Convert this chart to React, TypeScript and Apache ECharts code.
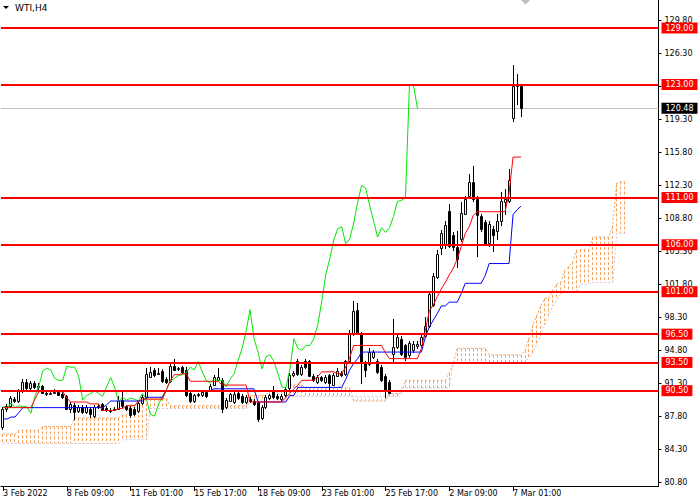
import React, { useEffect, useRef } from 'react';
import * as echarts from 'echarts';

const categoryCount = 165;
const xTickBars = [0, 16, 32, 48, 64, 80, 96, 112, 128];
const xTickLabels = ['3 Feb 2022', '8 Feb 09:00', '11 Feb 01:00', '15 Feb 17:00', '18 Feb 09:00', '23 Feb 01:00', '25 Feb 17:00', '2 Mar 09:00', '7 Mar 01:00'];
const yTickValues = [80.8, 84.3, 87.8, 91.3, 94.8, 98.3, 101.8, 105.3, 108.8, 112.3, 115.8, 119.3, 122.8, 126.3, 129.8];
const levels = [129, 123, 111, 106, 101, 96.5, 93.5, 90.5];
const lastPrice = 120.48;

// [open, high, low, close] per H4 bar
const candles: number[][] = [
  [86.6, 88.8, 86.3, 88.6], [88.6, 89.1, 88.2, 88.9], [88.9, 89.9, 88.7, 89.7], [89.6, 89.8, 89.2, 89.4], [89.4, 90.7, 89.2, 90.5],
  [90.5, 91.7, 90.3, 91.4], [91.4, 91.7, 90.6, 90.8], [90.8, 91.5, 90.6, 91.3], [91.3, 91.5, 90.7, 90.9], [90.9, 91.3, 90.6, 91.0],
  [91.0, 91.1, 90.1, 90.3], [90.3, 90.6, 89.9, 90.2], [90.2, 90.5, 90.0, 90.3], [90.3, 90.7, 90.1, 90.4], [90.4, 90.6, 89.9, 90.0],
  [90.2, 90.4, 89.6, 89.8], [89.9, 90.0, 88.4, 88.6], [88.6, 89.3, 88.1, 89.1], [89.0, 89.2, 87.4, 88.2], [88.3, 89.0, 88.1, 88.8],
  [88.8, 89.0, 88.0, 88.2], [88.2, 89.0, 88.0, 88.8], [88.6, 88.8, 87.6, 88.0], [87.8, 89.0, 87.6, 88.8], [88.8, 89.1, 88.6, 88.9],
  [89.1, 89.2, 88.3, 88.5], [88.7, 88.9, 88.2, 88.4], [88.5, 88.7, 88.1, 88.3], [88.4, 88.8, 88.3, 88.6], [88.6, 89.9, 88.4, 89.4],
  [89.5, 90.4, 88.7, 88.9], [88.9, 89.0, 88.3, 88.6], [88.7, 88.9, 87.6, 87.9], [88.6, 88.8, 87.8, 88.0], [88.3, 89.4, 88.1, 89.2],
  [89.2, 90.0, 89.0, 89.8], [89.8, 92.9, 89.6, 92.3], [92.0, 93.0, 91.9, 92.5], [92.7, 92.9, 92.0, 92.2], [92.3, 92.9, 92.2, 92.4],
  [92.6, 92.8, 91.3, 91.5], [91.7, 91.9, 91.2, 91.4], [91.5, 93.3, 91.3, 93.1], [93.1, 93.9, 92.6, 92.7], [92.8, 93.0, 92.6, 92.9],
  [93.0, 93.1, 92.3, 92.5], [92.7, 93.0, 89.8, 90.0], [90.3, 90.5, 89.2, 89.4], [89.4, 90.2, 89.2, 90.0], [90.0, 90.3, 89.8, 90.1],
  [90.0, 90.6, 89.8, 90.4], [90.4, 90.6, 89.7, 89.9], [90.6, 91.2, 90.5, 91.0], [91.1, 92.2, 91.0, 92.0], [91.6, 92.9, 91.5, 92.0],
  [91.6, 91.8, 88.1, 88.6], [88.8, 89.7, 88.6, 89.5], [89.4, 90.3, 89.3, 90.1], [89.3, 90.4, 89.1, 90.2], [90.3, 90.5, 89.5, 89.7],
  [89.9, 90.1, 89.1, 89.3], [89.3, 90.0, 89.1, 89.8], [89.6, 89.8, 89.2, 89.4], [89.4, 89.6, 88.9, 89.1], [89.3, 89.4, 87.2, 87.5],
  [87.6, 89.0, 87.4, 88.8], [88.8, 90.0, 88.6, 89.8], [89.7, 90.2, 89.5, 90.0], [90.5, 91.0, 89.6, 89.8], [89.9, 90.1, 89.5, 89.7],
  [89.6, 90.1, 89.4, 89.9], [90.0, 90.9, 89.8, 90.7], [90.8, 92.4, 90.6, 92.2], [92.2, 92.6, 92.0, 92.4], [93.6, 93.9, 92.1, 92.3],
  [92.3, 93.2, 92.1, 93.0], [93.7, 93.9, 92.8, 93.0], [93.6, 93.8, 91.9, 92.1], [92.1, 92.3, 91.4, 91.6], [91.4, 92.2, 91.2, 92.0],
  [91.9, 92.1, 91.4, 91.6], [91.4, 92.2, 91.2, 92.0], [92.2, 92.3, 90.5, 91.3], [91.1, 92.4, 91.0, 92.2], [92.1, 92.9, 91.9, 92.6],
  [92.4, 92.6, 92.0, 92.2], [92.3, 93.8, 92.1, 93.6], [93.6, 96.9, 93.4, 96.6], [96.5, 100.0, 96.3, 99.0], [99.1, 99.8, 96.4, 96.6],
  [96.5, 96.7, 91.2, 93.5], [93.4, 93.6, 92.0, 92.7], [93.3, 95.0, 93.1, 94.6], [94.1, 94.8, 93.9, 94.6], [93.7, 93.9, 92.3, 92.5],
  [93.0, 93.2, 91.4, 91.6], [92.1, 92.3, 89.7, 90.5], [91.4, 91.6, 90.1, 90.3], [94.4, 98.1, 93.4, 95.1], [95.1, 96.4, 94.9, 96.2],
  [96.0, 96.3, 94.2, 94.4], [95.3, 95.5, 93.7, 94.1], [94.3, 95.8, 94.0, 95.6], [94.8, 95.8, 94.5, 95.5], [95.2, 95.8, 94.9, 95.5],
  [95.3, 96.5, 95.1, 96.2], [96.3, 98.3, 96.1, 97.4], [97.4, 101.0, 97.2, 100.8], [99.6, 103.0, 99.4, 102.7], [102.6, 105.4, 102.4, 105.0],
  [105.6, 107.6, 104.9, 107.2], [106.1, 108.5, 105.5, 108.1], [109.6, 110.3, 105.6, 105.9], [107.0, 107.4, 105.3, 105.8], [105.8, 107.5, 103.5, 104.5],
  [106.6, 110.5, 106.3, 109.4], [109.3, 111.2, 109.1, 110.9], [111.2, 113.5, 111.0, 112.7], [112.7, 114.4, 110.5, 110.9], [110.9, 111.2, 104.7, 109.1],
  [109.0, 109.3, 107.4, 107.7], [108.4, 108.6, 105.9, 106.1], [106.2, 108.5, 105.8, 108.2], [107.7, 108.0, 105.2, 107.0], [107.5, 109.3, 106.5, 108.5],
  [108.5, 111.6, 108.0, 110.6], [110.5, 111.9, 109.2, 110.8], [110.6, 114.0, 110.4, 112.9], [119.4, 125.1, 119.0, 122.8], [122.8, 124.1, 120.8, 123.0],
  [122.9, 123.0, 119.6, 120.48],
];

const tenkan = [
  88.7, 88.7, 88.7, 88.7, 88.7, 88.7, 88.7, 88.7, 89.6, 90.4,
  90.4, 90.4, 90.4, 90.4, 90.4, 90.4, 89.7, 89.3, 89.3, 89.3,
  89.3, 89.3, 89.1, 89.1, 89.1, 88.4, 88.4, 88.4, 88.4, 88.6,
  88.6, 88.9, 88.9, 88.9, 89.4, 89.6, 89.6, 89.6, 89.6, 89.6,
  89.6, 90.6, 91.6, 92.2, 92.2, 92.3, 92.3, 91.5, 91.5, 91.5,
  91.5, 91.5, 91.5, 91.5, 91.5, 91.1, 91.1, 91.1, 91.1, 91.1,
  91.1, 91.1, 89.3, 89.3, 89.3, 89.3, 89.3, 89.3, 89.3, 89.3,
  89.3, 89.8, 90.2, 90.7, 91.1, 91.6, 91.6, 91.6, 91.6, 92.0,
  92.5, 92.5, 92.5, 92.5, 92.3, 92.3, 93.0, 94.0, 95.3, 95.3,
  95.3, 95.3, 95.3, 95.3, 95.3, 95.3, 94.5, 93.9, 93.9, 93.9,
  93.9, 93.9, 93.9, 93.9, 93.9, 95.0, 96.9, 99.0, 99.6, 100.5,
  101.3, 102.0, 102.8, 103.5, 104.5, 105.8, 107.2, 107.9, 109.1, 109.5,
  109.5, 109.5, 109.5, 109.5, 109.5, 109.5, 109.5, 111.5, 115.3, 115.3,
  115.3,
];

const kijun = [
  87.5, 87.5, 87.7, 87.7, 88.2, 88.7, 88.7, 88.7, 88.7, 88.7,
  88.7, 88.7, 88.7, 88.7, 88.7, 88.7, 88.7, 88.7, 88.7, 88.7,
  88.7, 88.7, 88.7, 88.7, 88.7, 88.7, 89.0, 89.4, 89.4, 89.4,
  89.4, 89.4, 89.4, 89.4, 89.4, 89.4, 89.8, 89.8, 89.8, 89.8,
  89.8, 90.5, 90.5, 90.5, 90.5, 90.5, 90.5, 90.5, 90.5, 90.5,
  90.5, 90.5, 90.5, 90.7, 90.7, 90.7, 90.7, 90.7, 90.7, 90.7,
  90.7, 90.7, 90.7, 90.7, 89.3, 89.3, 89.3, 89.3, 89.3, 89.3,
  89.3, 89.3, 90.0, 90.0, 90.85, 90.85, 90.85, 90.85, 90.85, 90.85,
  90.85, 90.85, 90.85, 90.85, 90.85, 90.85, 91.7, 92.7, 93.4, 93.9,
  94.6, 94.6, 94.6, 94.6, 94.6, 94.6, 94.6, 94.6, 94.6, 94.6,
  94.6, 94.6, 94.6, 94.6, 94.6, 94.6, 96.2, 97.3, 98.0, 98.7,
  99.5, 99.5, 99.9, 99.9, 99.9, 100.8, 101.9, 101.9, 101.9, 101.9,
  101.9, 102.7, 104.0, 104.0, 104.0, 104.0, 104.0, 104.0, 109.2, 109.7,
  110.1,
];

const chikou = [
  88.9, 88.6, 89.2, 88.7, 88.9, 88.8, 88.8, 88.1, 89.9, 91.0,
  92.6, 92.9, 92.7, 91.8, 91.6, 91.6, 93.1, 93.0, 93.0, 92.0,
  89.5, 90.0, 90.2, 90.5, 90.2, 89.9, 90.9, 91.9, 90.9, 89.3,
  89.8, 89.5, 89.7, 89.6, 89.4, 90.2, 89.6, 88.0, 87.8, 89.0,
  89.9, 90.6, 91.5, 91.8, 92.1, 92.2, 92.4, 93.0, 92.7, 93.6,
  92.5, 91.6, 91.3, 91.7, 91.6, 91.6, 90.9, 91.7, 92.3, 93.7,
  95.0, 96.8, 99.1, 96.0, 94.6, 92.8, 94.1, 94.3, 93.6, 92.3,
  90.9, 90.8, 92.8, 96.0, 95.0, 94.8, 95.3, 95.3, 96.0, 97.5,
  100.0, 102.8, 104.5, 106.5, 107.7, 107.9, 106.1, 106.6, 108.3, 110.5,
  112.3, 112.0, 110.2, 108.5, 106.8, 107.8, 107.3, 107.8, 109.0, 110.6,
  110.7, 111.0, 122.9, 123.0, 120.48,
];

const senkouA = [
  85.9, 85.9, 85.9, 85.9, 86.3, 86.3, 86.3, 86.3, 86.3, 86.3,
  86.7, 86.7, 86.7, 86.7, 86.7, 86.7, 86.7, 86.7, 87.6, 87.6,
  87.6, 87.6, 87.6, 87.6, 87.6, 87.6, 87.6, 87.6, 87.6, 87.6,
  87.9, 87.9, 89.0, 89.0, 89.0, 89.0, 89.7, 89.7, 89.7, 89.7,
  89.7, 89.7, 88.9, 88.9, 88.9, 88.9, 88.9, 88.9, 88.9, 88.9,
  88.9, 88.9, 88.9, 88.9, 88.9, 88.9, 88.9, 88.9, 88.9, 88.9,
  88.9, 88.9, 90.0, 90.0, 90.0, 90.0, 90.0, 90.5, 90.5, 90.5,
  90.5, 90.5, 91.1, 91.1, 91.1, 91.1, 90.8, 90.8, 90.8, 90.8,
  90.8, 90.8, 90.8, 90.8, 90.8, 90.8, 90.8, 90.8, 89.4, 89.4,
  89.4, 89.4, 89.4, 89.4, 89.4, 89.4, 89.4, 90.2, 90.2, 90.2,
  90.2, 91.6, 91.6, 91.6, 91.6, 91.6, 91.6, 91.6, 91.6, 91.6,
  91.6, 91.6, 92.4, 93.4, 95.0, 95.0, 95.0, 95.0, 95.0, 95.0,
  95.0, 95.0, 94.3, 94.3, 94.3, 94.3, 94.3, 94.3, 94.3, 94.3,
  94.3, 94.8, 96.0, 97.5, 98.5, 99.5, 100.3, 100.3, 101.2, 101.8,
  102.0, 103.3, 103.7, 104.2, 105.4, 105.5, 105.5, 105.5, 106.8, 106.8,
  106.8, 106.8, 106.8, 108.0, 112.5, 112.7, 112.7,
];

const senkouB = [
  84.9, 84.9, 84.9, 84.9, 84.9, 84.9, 84.9, 84.9, 84.9, 84.9,
  84.9, 84.9, 84.9, 84.9, 84.9, 84.9, 84.9, 84.9, 84.9, 84.9,
  84.9, 84.9, 84.9, 84.9, 84.9, 84.9, 84.9, 84.9, 84.9, 84.9,
  85.3, 85.3, 85.3, 85.3, 85.3, 85.3, 85.3, 88.6, 88.6, 88.6,
  88.6, 88.6, 88.6, 88.6, 88.6, 88.6, 88.6, 88.6, 88.6, 88.6,
  88.6, 88.6, 88.6, 88.6, 88.6, 88.6, 88.6, 88.6, 88.6, 88.6,
  88.6, 88.6, 89.5, 89.5, 89.5, 89.5, 89.5, 89.5, 89.5, 89.5,
  89.5, 89.5, 89.9, 89.9, 89.9, 89.9, 89.9, 89.9, 89.9, 89.9,
  89.9, 89.9, 89.9, 89.9, 89.9, 89.9, 89.9, 89.9, 89.9, 89.9,
  89.9, 89.9, 89.9, 89.9, 89.9, 89.9, 89.9, 89.9, 89.9, 89.9,
  90.8, 90.8, 90.8, 90.8, 90.8, 90.8, 90.8, 90.8, 90.8, 90.8,
  90.8, 90.8, 90.8, 93.5, 93.5, 93.5, 93.5, 93.5, 93.5, 93.5,
  93.5, 93.5, 93.5, 93.5, 93.5, 93.5, 93.5, 93.5, 93.5, 93.5,
  93.5, 93.5, 94.0, 94.5, 95.5, 96.5, 97.5, 98.5, 99.5, 100.2,
  100.8, 101.0, 101.0, 101.0, 101.0, 101.8, 101.8, 101.8, 102.0, 102.0,
  102.0, 102.0, 102.0, 102.0, 107.2, 107.2, 107.2,
];

const FONT = 'DejaVu Sans';

export default function App() {
  const ref = useRef<HTMLDivElement>(null);

  useEffect(() => {
    if (!ref.current) return;
    const chart = echarts.init(ref.current, undefined, { renderer: 'svg' });
    const categories = Array.from({ length: categoryCount }, (_, i) => String(i));
    const isTick = (index: number) => xTickBars.indexOf(index) >= 0;

    const option: any = {
      animation: false,
      backgroundColor: '#ffffff',
      grid: { left: -1.5, top: 0, width: 660, height: 486, containLabel: false },
      xAxis: {
        type: 'category',
        data: categories,
        boundaryGap: true,
        axisLine: { show: true, lineStyle: { color: '#000', width: 1 } },
        axisTick: { show: true, interval: (i: number) => isTick(i), alignWithLabel: true, length: 5, lineStyle: { color: '#000' } },
        axisLabel: {
          interval: (i: number) => isTick(i),
          formatter: (_v: string, i: number) => xTickLabels[xTickBars.indexOf(i)] || '',
          align: 'left',
          margin: 3,
          fontSize: 8,
          fontFamily: FONT,
          color: '#000',
          hideOverlap: false,
        },
        splitLine: { show: false },
      },
      yAxis: {
        type: 'value',
        position: 'right',
        min: 80.38,
        max: 131.98,
        scale: true,
        axisLine: { show: true, lineStyle: { color: '#000', width: 1 } },
        axisTick: { show: true, customValues: yTickValues, length: 3, lineStyle: { color: '#000' } },
        axisLabel: {
          customValues: yTickValues,
          formatter: (v: number) => v.toFixed(2),
          margin: 6,
          fontSize: 8,
          fontFamily: FONT,
          color: '#000',
          showMinLabel: true,
          showMaxLabel: true,
        },
        splitLine: { show: false },
      },
      series: [
        {
          type: 'custom',
          name: 'cloud',
          z: 1,
          silent: true,
          data: senkouA.map((a, i) => [i, a, senkouB[i]]),
          encode: { x: 0, y: [1, 2] },
          renderItem: (_p: any, api: any) => {
            const i = api.value(0);
            const a = api.value(1);
            const b = api.value(2);
            const p1 = api.coord([i, a]);
            const p2 = api.coord([i, b]);
            const x = Math.round(p1[0] - 0.5) + 0.5;
            return {
              type: 'line',
              shape: { x1: x, y1: p1[1], x2: x, y2: p2[1] },
              style: { stroke: a >= b ? '#F4A460' : '#D8BFD8', lineWidth: 1, lineDash: [3, 2] },
            };
          },
        },
        {
          type: 'line',
          name: 'Senkou A',
          z: 1,
          data: senkouA,
          showSymbol: false,
          silent: true,
          lineStyle: { color: '#F4A460', width: 1, type: [2, 2] },
        },
        {
          type: 'line',
          name: 'Senkou B',
          z: 1,
          data: senkouB,
          showSymbol: false,
          silent: true,
          lineStyle: { color: '#D8BFD8', width: 1, type: [2, 2] },
          markLine: {
            silent: true,
            symbol: ['none', 'none'],
            z: 1,
            data: [{ yAxis: lastPrice }],
            lineStyle: { color: '#C0C0C0', width: 1, type: 'solid' },
            label: {
              show: true,
              position: 'end',
              distance: 3,
              formatter: () => lastPrice.toFixed(2),
              backgroundColor: '#000',
              color: '#fff',
              fontSize: 8,
              fontFamily: FONT,
              lineHeight: 9,
              padding: [1, 4, 1, 4],
            },
          },
        },
        {
          type: 'custom',
          name: 'WTI',
          z: 2,
          silent: true,
          data: candles.map((c, i) => [i, c[0], c[1], c[2], c[3]]),
          encode: { x: 0, y: [1, 2, 3, 4] },
          renderItem: (_p: any, api: any) => {
            const i = api.value(0);
            const o = api.value(1);
            const h = api.value(2);
            const l = api.value(3);
            const c = api.value(4);
            const pH = api.coord([i, h]);
            const yL = api.coord([i, l])[1];
            const yO = api.coord([i, o])[1];
            const yC = api.coord([i, c])[1];
            const x = Math.round(pH[0] - 0.5) + 0.5;
            let top = Math.round(Math.min(yO, yC)) + 0.5;
            let bot = Math.round(Math.max(yO, yC)) + 0.5;
            if (bot - top < 1) bot = top + 1;
            return {
              type: 'group',
              children: [
                { type: 'line', shape: { x1: x, y1: Math.round(pH[1]), x2: x, y2: Math.round(yL) }, style: { stroke: '#000', lineWidth: 1 } },
                { type: 'rect', shape: { x: x - 1, y: top, width: 2, height: bot - top }, style: { fill: c >= o ? '#fff' : '#000', stroke: '#000', lineWidth: 1 } },
              ],
            };
          },
        },
        {
          type: 'line',
          name: 'Chikou',
          z: 3,
          data: chikou,
          showSymbol: false,
          silent: true,
          lineStyle: { color: '#00E600', width: 1 },
        },
        {
          type: 'line',
          name: 'Kijun',
          z: 3,
          data: kijun,
          showSymbol: false,
          silent: true,
          lineStyle: { color: '#0000FF', width: 1 },
        },
        {
          type: 'line',
          name: 'Tenkan',
          z: 3,
          data: tenkan,
          showSymbol: false,
          silent: true,
          lineStyle: { color: '#FF0000', width: 1 },
          markLine: {
            silent: true,
            symbol: ['none', 'none'],
            z: 6,
            data: levels.map((v) => ({ yAxis: v })),
            lineStyle: { color: '#FF0000', width: 2, type: 'solid' },
            label: {
              show: true,
              position: 'end',
              distance: 3,
              formatter: (p: any) => Number(p.value).toFixed(2),
              backgroundColor: '#FF0000',
              color: '#fff',
              fontSize: 8,
              fontFamily: FONT,
              lineHeight: 9,
              padding: [1, 4, 1, 4],
            },
          },
        },
      ],
      graphic: [
        { type: 'polygon', silent: true, shape: { points: [[3, 6], [9, 6], [6, 9]] }, style: { fill: '#000' } },
        { type: 'text', silent: true, x: 15, y: 8, style: { text: 'WTI,H4', fill: '#000', font: `9px "${FONT}"`, verticalAlign: 'middle' } },
        { type: 'polygon', silent: true, shape: { points: [[521, 0], [530, 0], [525.5, 4.5]] }, style: { fill: '#BDBDBD' } },
      ],
    };

    chart.setOption(option);
    return () => chart.dispose();
  }, []);

  return (
    <div
      ref={ref}
      style={{ position: 'fixed', left: 0, top: 0, width: 700, height: 500, background: '#fff' }}
    />
  );
}
